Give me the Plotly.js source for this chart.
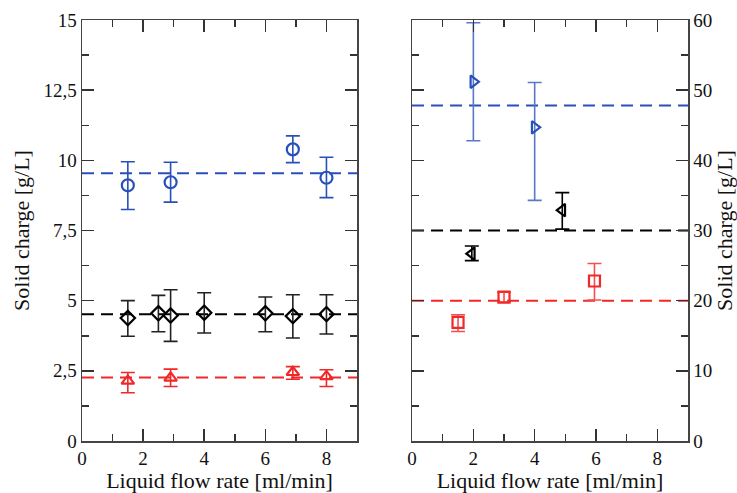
<!DOCTYPE html>
<html><head><meta charset="utf-8">
<script src="https://cdn.plot.ly/plotly-3.0.1.min.js"></script>
<style>html,body{margin:0;padding:0;background:#fff}#c{width:737px;height:493px}</style>
</head><body><div id="c"></div>
<script>
// Left panel data
const blueX = [1.5, 2.9, 6.9, 8.0];
const blueY = [9.11, 9.22, 10.39, 9.38];
const blueHi = [9.95, 9.93, 10.87, 10.11];
const blueLo = [8.25, 8.51, 9.92, 8.67];
const blueMean = 9.54;

const blackX = [1.5, 2.5, 2.9, 4.0, 6.0, 6.9, 8.0];
const blackY = [4.38, 4.55, 4.47, 4.57, 4.55, 4.45, 4.52];
const blackHi = [5.0, 5.19, 5.39, 5.28, 5.13, 5.21, 5.21];
const blackLo = [3.73, 3.89, 3.55, 3.85, 3.89, 3.67, 3.81];
const blackMean = 4.52;

const redX = [1.5, 2.9, 6.9, 8.0];
const redY = [2.14, 2.25, 2.45, 2.3];
const redHi = [2.44, 2.56, 2.65, 2.54];
const redLo = [1.72, 1.94, 2.2, 1.94];
const redMean = 2.26;

// Right panel data
const rBlueX = [2.0, 4.0];
const rBlueY = [51.2, 44.7];
const rBlueHi = [59.6, 51.1];
const rBlueLo = [42.8, 34.3];
const rBlueMean = 47.8;

const rBlackX = [1.95, 4.9];
const rBlackY = [26.7, 32.9];
const rBlackHi = [27.8, 35.4];
const rBlackLo = [25.7, 30.2];
const rBlackMean = 30.0;

const rRedX = [1.5, 3.0, 5.95];
const rRedY = [16.9, 20.5, 22.8];
const rRedHi = [18.0, 21.2, 25.3];
const rRedLo = [15.6, 19.8, 20.1];
const rRedMean = 20.0;

const xSpan = [0, 9];

const BLUE = 'rgb(40,80,185)';
const RED = 'rgb(240,40,40)';
const BLACK = 'rgb(0,0,0)';

function pts(x, y, hi, lo, color, symbol, xa, ya, size, ebColor) {
  return {
    x: x, y: y, xaxis: xa, yaxis: ya, type: 'scatter', mode: 'markers',
    marker: {symbol: symbol, size: size, color: color, line: {color: color, width: 2.2}},
    error_y: {type: 'data', symmetric: false,
      array: y.map((v, i) => hi[i] - v), arrayminus: y.map((v, i) => v - lo[i]),
      color: ebColor || color, thickness: 1.6, width: 7},
    showlegend: false, cliponaxis: false
  };
}
function meanLine(m, color, xa, ya) {
  return {x: xSpan, y: [m, m], xaxis: xa, yaxis: ya, type: 'scatter', mode: 'lines',
    line: {color: color, width: 2, dash: '12px,7px'}, showlegend: false};
}

const traces = [
  meanLine(blueMean, BLUE, 'x', 'y'),
  meanLine(blackMean, BLACK, 'x', 'y'),
  meanLine(redMean, RED, 'x', 'y'),
  pts(blueX, blueY, blueHi, blueLo, BLUE, 'circle-open', 'x', 'y', 12),
  pts(blackX, blackY, blackHi, blackLo, BLACK, 'diamond-open', 'x', 'y', 11, '#222'),
  pts(redX, redY, redHi, redLo, RED, 'triangle-up-open', 'x', 'y', 11),
  meanLine(rBlueMean, BLUE, 'x2', 'y2'),
  meanLine(rBlackMean, BLACK, 'x2', 'y2'),
  meanLine(rRedMean, RED, 'x2', 'y2'),
  pts(rBlueX, rBlueY, rBlueHi, rBlueLo, BLUE, 'triangle-right-open', 'x2', 'y2', 11, 'rgb(90,120,200)'),
  pts(rBlackX, rBlackY, rBlackHi, rBlackLo, BLACK, 'triangle-left-open', 'x2', 'y2', 11),
  pts(rRedX, rRedY, rRedHi, rRedLo, RED, 'square-open', 'x2', 'y2', 11, 'rgb(245,80,80)')
];

const FAM = "Liberation Serif, DejaVu Serif, serif";
const FONT = {family: FAM, size: 19, color: '#111'};
const TITLEFONT = {family: FAM, size: 22, color: '#111'};
const axBase = {showline: true, linecolor: '#444', linewidth: 1.5, mirror: 'ticks',
  ticks: 'inside', ticklen: 12, tickwidth: 1.5, tickcolor: '#333',
  showgrid: false, zeroline: false, tickfont: FONT, fixedrange: true};

const xBase = Object.assign({}, axBase, {range: [0, 9], tickvals: [0, 2, 4, 6, 8],
  minor: {tickvals: [1, 3, 5, 7], ticks: 'inside', ticklen: 7, tickwidth: 1.5, tickcolor: '#333'},
  title: {text: 'Liquid flow rate [ml/min]', font: TITLEFONT, standoff: 2}});

const layout = {
  width: 737, height: 493,
  margin: {l: 82, r: 49, t: 20, b: 52},
  paper_bgcolor: '#fff', plot_bgcolor: '#fff',
  separators: ', ',
  font: {family: FAM},
  xaxis: Object.assign({}, xBase, {domain: [0, 0.4538], anchor: 'y'}),
  xaxis2: Object.assign({}, xBase, {domain: [0.5446, 1], anchor: 'y2'}),
  yaxis: Object.assign({}, axBase, {range: [0, 15], dtick: 2.5, tick0: 0, anchor: 'x',
    minor: {dtick: 1.25, ticks: 'inside', ticklen: 7, tickwidth: 1.5, tickcolor: '#333'},
    title: {text: 'Solid charge [g/L]', font: TITLEFONT, standoff: 8}}),
  yaxis2: Object.assign({}, axBase, {range: [0, 60], dtick: 10, tick0: 0, anchor: 'x2', side: 'right',
    minor: {dtick: 5, ticks: 'inside', ticklen: 7, tickwidth: 1.5, tickcolor: '#333'},
    title: {text: 'Solid charge [g/L]', font: TITLEFONT, standoff: 8}})
};

Plotly.newPlot('c', traces, layout, {displayModeBar: false, staticPlot: true});
</script></body></html>
